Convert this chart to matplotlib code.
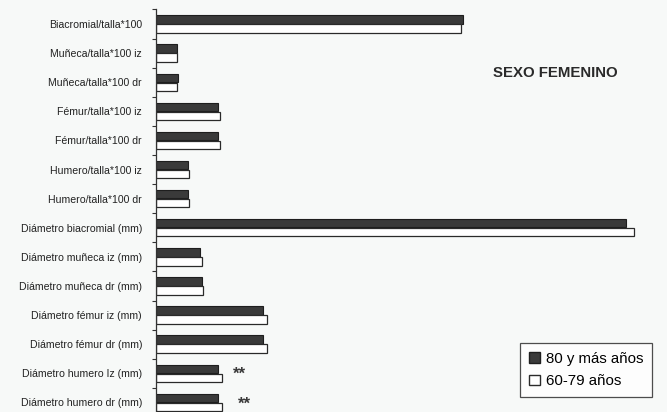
import matplotlib
matplotlib.use("Agg")
import matplotlib.pyplot as plt
import numpy as np
from matplotlib.patches import Patch

categories = [
    "Biacromial/talla*100",
    "Muñeca/talla*100 iz",
    "Muñeca/talla*100 dr",
    "Fémur/talla*100 iz",
    "Fémur/talla*100 dr",
    "Humero/talla*100 iz",
    "Humero/talla*100 dr",
    "Diámetro biacromial (mm)",
    "Diámetro muñeca iz (mm)",
    "Diámetro muñeca dr (mm)",
    "Diámetro fémur iz (mm)",
    "Diámetro fémur dr (mm)",
    "Diámetro humero Iz (mm)",
    "Diámetro humero dr (mm)",
]
s80 = [307, 21, 22, 62, 62, 32, 32, 470, 44, 46, 107, 107, 62, 62]
s60 = [305, 21, 21, 64, 64, 33, 33, 478, 46, 47, 111, 111, 66, 66]
series_names = ["80 y más años", "60-79 años"]
signif = ["", "", "", "", "", "", "", "", "", "", "", "", "**", "**"]

plt.rcParams['font.family'] = ['Liberation Sans', 'DejaVu Sans']

fig = plt.figure(figsize=(6.67, 4.12), dpi=100)
bg = '#f7f9f8'
fig.patch.set_facecolor(bg)
ax = fig.add_axes([156/667, -0.012, 504/667, 0.989])
ax.set_facecolor(bg)

n = len(categories)
y = np.arange(n)
h = 0.29
ax.barh(y - h/2 - 0.01, s80, height=h, color='#3a3a3a', edgecolor='#1e1e1e', linewidth=0.8)
ax.barh(y + h/2 + 0.01, s60, height=h, color='white', edgecolor='#2a2a2a', linewidth=0.9)

for i, s in enumerate(signif):
    if s:
        off = 11 if i == 12 else 16
        ax.text(max(s80[i], s60[i]) + off, y[i] + 0.05, s, ha='left', va='center',
                fontsize=12, fontweight='bold', color='#3a3a3a')

ax.set_xlim(0, 504)
ax.set_ylim(n - 0.5, -0.5)
ax.set_yticks(y)
ax.set_yticklabels(categories, fontsize=7.6, color='#222222')
ax.tick_params(axis='y', which='major', length=0, pad=10)
ax.set_yticks(np.arange(n + 1) - 0.5, minor=True)
ax.tick_params(axis='y', which='minor', length=3, width=0.8, color='#333333')
ax.set_xticks([])
for sp in ['top', 'right', 'bottom']:
    ax.spines[sp].set_visible(False)
ax.spines['left'].set_color('#333333')
ax.spines['left'].set_linewidth(0.9)

fig.text(555/667, 1 - 73/412, "SEXO FEMENINO", ha='center', va='center',
         fontsize=10.8, fontweight='bold', color='#2a2a2a')

handles = [Patch(facecolor='#3a3a3a', edgecolor='#1e1e1e', label=series_names[0]),
           Patch(facecolor='white', edgecolor='#2a2a2a', label=series_names[1])]
leg = fig.legend(handles=handles, loc='lower right', bbox_to_anchor=(652/667, 1 - 397/412),
                 frameon=True, fancybox=False, fontsize=10.8, handlelength=0.7, handleheight=0.7,
                 handletextpad=0.4, borderpad=0.6, labelspacing=0.55, borderaxespad=0)
leg.get_frame().set_edgecolor('#222222')
leg.get_frame().set_linewidth(0.9)
leg.get_frame().set_facecolor('white')

fig.savefig("out.png", dpi=100, facecolor=fig.get_facecolor())
